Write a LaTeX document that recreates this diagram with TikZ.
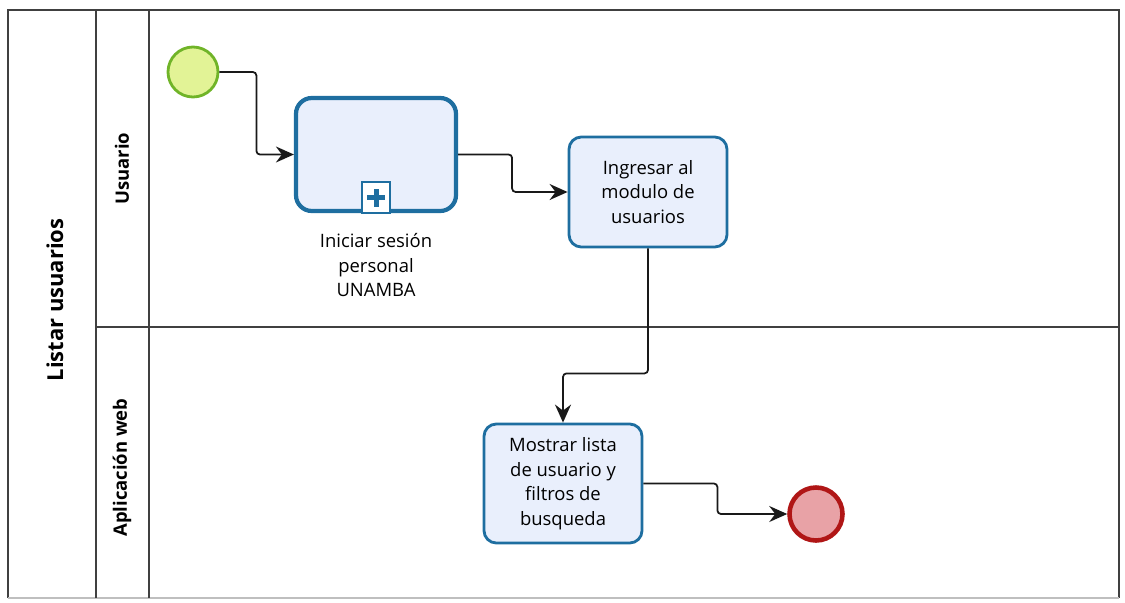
\documentclass[tikz,border=0pt]{standalone}
\usepackage{fontspec}
\setmainfont{Open Sans}
\usepackage{tikz}
\usetikzlibrary{shapes,arrows.meta}
\definecolor{taskline}{RGB}{30,110,160}
\definecolor{taskfill}{RGB}{233,239,252}
\definecolor{startline}{RGB}{112,180,40}
\definecolor{startfill}{RGB}{226,243,150}
\definecolor{endline}{RGB}{176,22,22}
\definecolor{endfill}{RGB}{232,162,166}
\newcommand{\submarker}[1]{
  \draw[taskline, line width=1.4pt, fill=white]
    ([xshift=-0.28cm]#1.south) rectangle ([xshift=0.28cm,yshift=0.62cm]#1.south);
  \fill[taskline] ([xshift=-0.05cm,yshift=0.13cm]#1.south) rectangle ([xshift=0.05cm,yshift=0.49cm]#1.south);
  \fill[taskline] ([xshift=-0.18cm,yshift=0.26cm]#1.south) rectangle ([xshift=0.18cm,yshift=0.36cm]#1.south);
}
\tikzset{
  lane/.style = {draw=black!75, line width=0.9pt},
  lanetitle/.style = {rotate=90, font=\bfseries\fontsize{10.5}{12}\selectfont},
  pooltitle/.style = {rotate=90, font=\bfseries\fontsize{12.5}{14}\selectfont},
  task/.style = {rectangle, rounded corners=7pt, draw=taskline, fill=taskfill,
                 line width=1.6pt, minimum width=3.16cm, align=center,
                 font=\fontsize{10.5}{14}\selectfont},
  subproc/.style = {task, line width=2.4pt, rounded corners=9pt,
                    minimum width=3.2cm, minimum height=2.26cm},
  startev/.style = {circle, draw=startline, fill=startfill, line width=1.6pt,
                    minimum size=1cm, inner sep=0pt},
  endev/.style = {circle, draw=endline, fill=endfill, line width=2.6pt,
                  minimum size=1.06cm, inner sep=0pt},
  flow/.style = {draw=black!90, line width=1pt, rounded corners=2pt,
                 -{Stealth[length=3.6mm, width=3.2mm, inset=1.2mm]}}
}

\begin{document}
\begin{tikzpicture}
	\useasboundingbox (0,0) rectangle (22.5,-12.04);
	% pool and lanes
	\draw[lane] (0.16,-11.96) -- (0.16,-0.2) -- (22.38,-0.2) -- (22.38,-11.96);
	\draw[black!25, line width=0.6pt] (0.16,-11.96) -- (22.38,-11.96);
	\draw[lane] (1.92,-0.2) -- (1.92,-11.96);
	\draw[lane] (2.98,-0.2) -- (2.98,-11.96);
	\draw[lane] (1.92,-6.54) -- (22.38,-6.54);
	\node[pooltitle] (pool) at (1.1,-6.0) {Listar usuarios};
	\node[lanetitle] (usr) at (2.44,-3.37) {Usuario};
	\node[lanetitle] (web) at (2.44,-9.35) {Aplicación web};
	% events and tasks
	\node[startev] (start) at (3.86,-1.44) {};
	\node[subproc] (login) at (7.52,-3.09) {};
	\submarker{login}
	\node[anchor=north, align=center, font=\fontsize{10.5}{14}\selectfont]
	      (loginlbl) at ([yshift=-0.28cm]login.south)
	      {Iniciar sesión\\personal\\UNAMBA};
	\node[task, minimum height=2.2cm] (modulo) at (12.96,-3.84)
	      {Ingresar al\\modulo de\\usuarios};
	\node[task, minimum height=2.38cm] (lista) at (11.26,-9.67)
	      {Mostrar lista\\de usuario y\\filtros de\\busqueda};
	\node[endev] (end) at (16.32,-10.28) {};
	% flows
	\draw[flow] (start.east) -- ++(0.74,0) |- (login);
	\draw[flow] (login.east) -- ++(1.08,0) |- (modulo);
	\draw[flow] (modulo.south) -- ++(0,-2.5) -| (lista.north);
	\draw[flow] (lista.east) -- ++(1.48,0) |- (end);
\end{tikzpicture}
\end{document}
